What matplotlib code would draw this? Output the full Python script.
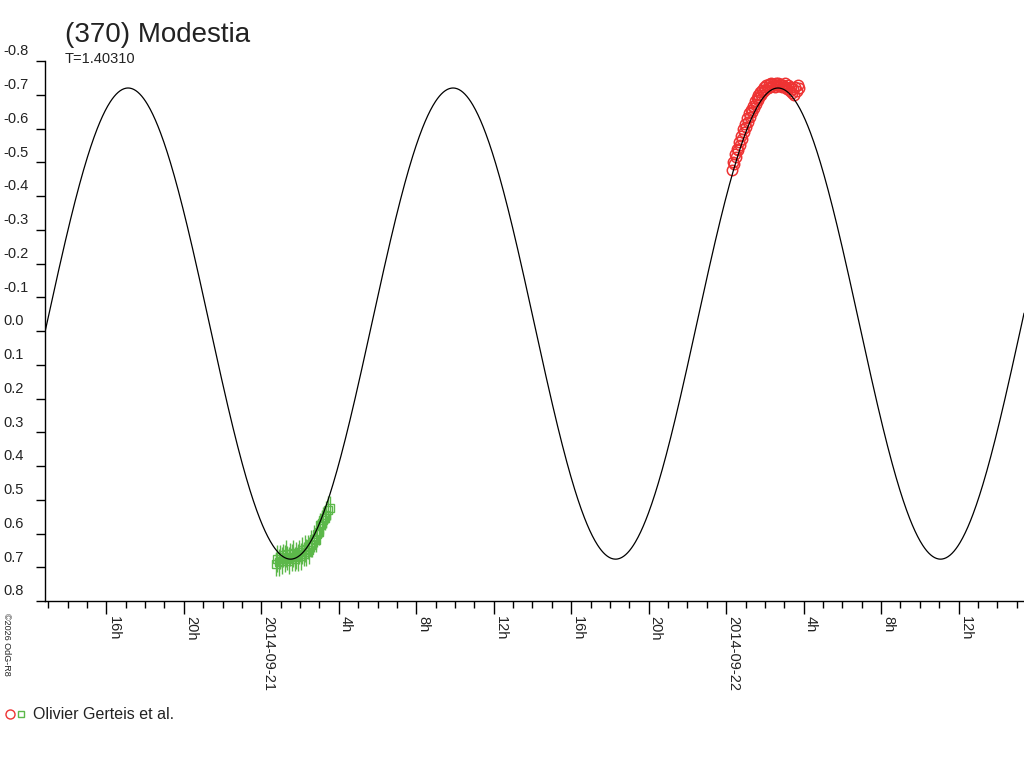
import numpy as np
import matplotlib
matplotlib.use('Agg')
from matplotlib import pyplot as plt
from matplotlib.lines import Line2D
from matplotlib.transforms import blended_transform_factory

plt.rcParams['font.family'] = ['Liberation Sans', 'DejaVu Sans']

# time axis: hours since 2014-09-20 00:00
t_start = 12.83
t_end = 63.38

# fitted lightcurve model
period_h = 16.78
peak_epoch_h = 17.12
mean_mag = -0.022
amplitude = 0.698

# green session (2014-09-21), hours after 2014-09-21 00:00
green_hours = [0.75, 0.82, 0.90, 0.97, 1.05, 1.12, 1.20, 1.28, 1.35, 1.43,
               1.50, 1.58, 1.65, 1.73, 1.80, 1.88, 1.95, 2.03, 2.10, 2.18,
               2.26, 2.33, 2.41, 2.48, 2.56, 2.64, 2.72, 2.80, 2.88, 2.96,
               3.04, 3.12, 3.20, 3.28, 3.36, 3.45, 3.53]
green_mag = [0.690, 0.675, 0.685, 0.670, 0.680, 0.665, 0.675, 0.660, 0.672, 0.680,
             0.662, 0.670, 0.658, 0.675, 0.665, 0.670, 0.655, 0.668, 0.650, 0.660,
             0.645, 0.655, 0.640, 0.650, 0.630, 0.635, 0.615, 0.620, 0.600, 0.595,
             0.575, 0.570, 0.560, 0.555, 0.545, 0.530, 0.525]
green_err = [0.035, 0.040, 0.040, 0.035, 0.040, 0.035, 0.040, 0.040, 0.035, 0.040,
             0.035, 0.040, 0.040, 0.035, 0.040, 0.040, 0.035, 0.040, 0.040, 0.035,
             0.040, 0.040, 0.035, 0.040, 0.040, 0.035, 0.040, 0.035, 0.040, 0.040,
             0.035, 0.040, 0.040, 0.035, 0.040, 0.040, 0.035]

# red session (2014-09-22), hours after 2014-09-22 00:00
red_hours = [0.30, 0.36, 0.42, 0.47, 0.52, 0.57, 0.62, 0.67, 0.72, 0.77,
             0.82, 0.87, 0.92, 0.97, 1.02, 1.07, 1.12, 1.17, 1.22, 1.27,
             1.32, 1.37, 1.42, 1.47, 1.52, 1.57, 1.62, 1.67, 1.72, 1.77,
             1.82, 1.87, 1.92, 1.97, 2.02, 2.08, 2.14, 2.20, 2.26, 2.32,
             2.38, 2.44, 2.50, 2.56, 2.62, 2.68, 2.74, 2.80, 2.86, 2.92,
             2.98, 3.04, 3.10, 3.16, 3.22, 3.28, 3.34, 3.40, 3.46, 3.52,
             3.58, 3.64, 3.70, 3.76]
red_mag = [-0.478, -0.500, -0.495, -0.525, -0.515, -0.540, -0.535, -0.560, -0.550, -0.578,
           -0.570, -0.598, -0.590, -0.612, -0.605, -0.630, -0.620, -0.645, -0.635, -0.655,
           -0.650, -0.668, -0.660, -0.680, -0.672, -0.690, -0.684, -0.700, -0.692, -0.708,
           -0.700, -0.715, -0.708, -0.722, -0.714, -0.728, -0.720, -0.732, -0.724, -0.734,
           -0.726, -0.733, -0.724, -0.736, -0.728, -0.734, -0.726, -0.733, -0.724, -0.730,
           -0.722, -0.734, -0.724, -0.718, -0.728, -0.712, -0.722, -0.705, -0.716, -0.700,
           -0.724, -0.712, -0.728, -0.720]

y_ticks = [-0.8, -0.7, -0.6, -0.5, -0.4, -0.3, -0.2, -0.1, 0.0,
           0.1, 0.2, 0.3, 0.4, 0.5, 0.6, 0.7, 0.8]
x_major = [16, 20, 24, 28, 32, 36, 40, 44, 48, 52, 56, 60]
x_labels = ['16h', '20h', '2014-09-21', '4h', '8h', '12h',
            '16h', '20h', '2014-09-22', '4h', '8h', '12h']

fig = plt.figure(figsize=(10.24, 7.68), dpi=100)
ax = fig.add_axes([45 / 1024, 1 - 601 / 768, 1 - 45 / 1024, (601 - 61) / 768])

t = np.linspace(t_start, t_end, 1500)
model = mean_mag - amplitude * np.cos(2 * np.pi * (t - peak_epoch_h) / period_h)
ax.plot(t, model, color='black', lw=0.9, zorder=3)

gx = 24 + np.array(green_hours)
ax.errorbar(gx, green_mag, yerr=green_err, fmt='s', mfc='none', mec='#5cb84a',
            ecolor='#5cb84a', ms=5.5, mew=1, elinewidth=1, capsize=0, zorder=2)
rx = 48 + np.array(red_hours)
ax.plot(rx, red_mag, 'o', mfc='none', mec='#ee3333', ms=7.5, mew=1.1, zorder=2)

ax.set_xlim(t_start, t_end)
ax.set_ylim(0.8, -0.8)

for s in ['top', 'right']:
    ax.spines[s].set_visible(False)
ax.spines['left'].set_linewidth(1)
ax.spines['bottom'].set_linewidth(1)

ax.set_yticks(y_ticks)
ax.set_yticklabels([])
ax.tick_params(axis='y', direction='out', length=6.5, width=1)
tr = blended_transform_factory(fig.transFigure, ax.transData)
for v in y_ticks:
    ax.text(3 / 1024, v - 0.008, '%.1f' % v, transform=tr, ha='left', va='bottom',
            fontsize=10.5, color='#222222', clip_on=False)

ax.set_xticks(x_major)
ax.set_xticklabels(x_labels, rotation=270, ha='left', va='top', fontsize=10.5, color='#222222')
ax.set_xticks(np.arange(13, 64), minor=True)
ax.tick_params(axis='x', which='major', direction='out', length=9.5, width=1, pad=1)
ax.tick_params(axis='x', which='minor', direction='out', length=5, width=1)

fig.text(65 / 1024, 1 - 42 / 768, '(370) Modestia', fontsize=20, color='#222222', va='baseline')
fig.text(65 / 1024, 1 - 63 / 768, 'T=1.40310', fontsize=10.5, color='#222222', va='baseline')

fig.text(2 / 1024, 1 - 613 / 768, '\u00a92026 OdG-R8', rotation=270, ha='left', va='top',
         fontsize=6.5, color='#222222')

fig.add_artist(Line2D([10 / 1024], [1 - 714 / 768], marker='o', mfc='none', mec='#ee3333',
                      ms=6.5, mew=1, transform=fig.transFigure))
fig.add_artist(Line2D([21 / 1024], [1 - 714 / 768], marker='s', mfc='none', mec='#5cb84a',
                      ms=5, mew=1, transform=fig.transFigure))
fig.text(33 / 1024, 1 - 719 / 768, 'Olivier Gerteis et al.', fontsize=11.5, color='#222222',
         va='baseline')

fig.savefig('out.png', dpi=100)
